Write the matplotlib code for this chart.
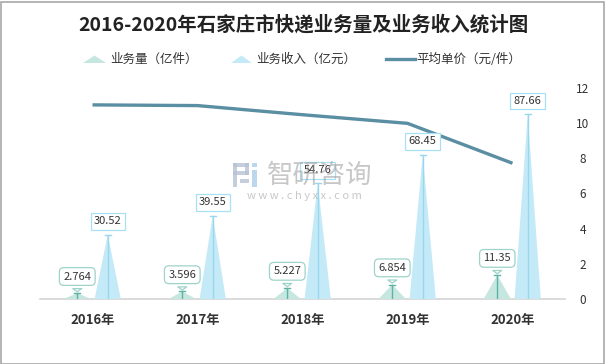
import matplotlib
matplotlib.use('Agg')
import matplotlib.pyplot as plt
from matplotlib.patches import Polygon, Rectangle
from matplotlib.lines import Line2D

plt.rcParams['font.family'] = ['Noto Sans CJK SC', 'DejaVu Sans']

# ---------------- data ----------------
years = ['2016年', '2017年', '2018年', '2019年', '2020年']
volume = [2.764, 3.596, 5.227, 6.854, 11.35]          # 业务量（亿件）
revenue = [30.52, 39.55, 54.76, 68.45, 87.66]         # 业务收入（亿元）
price = [11.04, 11.00, 10.48, 9.99, 7.72]             # 平均单价（元/件）
volume_labels = ['2.764', '3.596', '5.227', '6.854', '11.35']
revenue_labels = ['30.52', '39.55', '54.76', '68.45', '87.66']
right_ticks = [0, 2, 4, 6, 8, 10, 12]

title = '2016-2020年石家庄市快递业务量及业务收入统计图'
legend_names = ['业务量（亿件）', '业务收入（亿元）', '平均单价（元/件）']

# ---------------- style ----------------
W, H = 606, 364
vol_fill = '#c6e6e0'
vol_line = '#5db3a7'
vol_edge = '#9ed3ca'
rev_fill = '#c4eaf8'
rev_line = '#9ad7ee'
rev_edge = '#a9e0f3'
price_color = '#5a8ea2'
txt = '#333333'

fig = plt.figure(figsize=(W / 100, H / 100), dpi=100)
fig.patch.set_facecolor('white')


def fx(px):
    return px / W


def fy(py):
    return 1 - py / H


# border around figure
fig.patches.append(Rectangle((0.5 / W, 0.5 / H), 1 - 2.5 / W, 1 - 2.5 / H,
                             transform=fig.transFigure, fill=False,
                             ec='#a8a8a8', lw=1.2))

ax = fig.add_axes([fx(40), fy(299), fx(565) - fx(40), fy(88) - fy(299)])
ax2 = ax.twinx()

ax.set_xlim(-0.5, 4.5)
ax.set_ylim(0, 12)
ax2.set_ylim(0, 100)

for a in (ax, ax2):
    for s in a.spines.values():
        s.set_visible(False)
ax.spines['bottom'].set_visible(True)
ax.spines['bottom'].set_color('#d4d4d4')
ax.spines['bottom'].set_linewidth(1.2)

ax.yaxis.tick_right()
ax.set_yticks(right_ticks)
ax.set_yticklabels([str(t) for t in right_ticks])
ax.tick_params(axis='y', length=0, pad=13, labelsize=8.5, labelcolor=txt)
for tl in ax.get_yticklabels():
    tl.set_horizontalalignment('center')
ax2.set_yticks([])

ax.set_xticks(range(len(years)))
ax.set_xticklabels(years, fontweight='bold', fontsize=9.5, color=txt)
ax.tick_params(axis='x', length=0, pad=10)

# price line
ax.plot(range(len(years)), price, color=price_color, lw=2.4,
        solid_capstyle='butt', solid_joinstyle='round', zorder=3)

# spikes
off = 0.145
hw_v = 0.13
hw_r = 0.125
cap = 0.03
for i, (v, r) in enumerate(zip(volume, revenue)):
    xv = i - off
    xr = i + off
    ax2.fill([xv - hw_v, xv, xv + hw_v], [0, v, 0], color=vol_fill, lw=0, zorder=2)
    ax2.plot([xv, xv], [0, v], color=vol_line, lw=1, zorder=3)
    ax2.plot([xv - cap, xv + cap], [v, v], color=vol_line, lw=1, zorder=3)
    ax2.fill([xr - hw_r, xr, xr + hw_r], [0, r, 0], color=rev_fill, lw=0, zorder=2)
    ax2.plot([xr, xr], [0, r], color=rev_line, lw=1, zorder=3)
    ax2.plot([xr - cap, xr + cap], [r, r], color=rev_line, lw=1, zorder=3)

    ax2.annotate(volume_labels[i], xy=(xv, v), xytext=(0, 12),
                 textcoords='offset points', ha='center', va='center',
                 fontsize=8, color=txt, zorder=6,
                 bbox=dict(boxstyle='round,pad=0.35,rounding_size=0.4', fc='white',
                           ec=vol_edge, lw=0.9),
                 arrowprops=dict(arrowstyle='wedge,tail_width=0.8,shrink_factor=0.5',
                                 fc='white', ec=vol_edge, lw=0.9, shrinkB=1))
    ax2.annotate(revenue_labels[i], xy=(xr, r), xytext=(0, 9.5),
                 textcoords='offset points', ha='center', va='center',
                 fontsize=8, color=txt, zorder=6,
                 bbox=dict(boxstyle='square,pad=0.3', fc='white',
                           ec=rev_edge, lw=0.9))

# title
fig.text(fx(303), fy(25), title, ha='center', va='center', fontsize=14,
         fontweight='bold', color='#222222')

# legend (manual)
ly = 59
tri1 = Polygon([(fx(83), fy(63)), (fx(94.5), fy(55.5)), (fx(106), fy(63))],
               closed=True, transform=fig.transFigure, fc=vol_fill, ec='none')
tri2 = Polygon([(fx(231), fy(63)), (fx(241.5), fy(55.5)), (fx(252), fy(63))],
               closed=True, transform=fig.transFigure, fc=rev_fill, ec='none')
fig.patches.extend([tri1, tri2])
fig.lines.append(Line2D([fx(386), fx(415)], [fy(ly), fy(ly)], transform=fig.transFigure,
                        color=price_color, lw=2.4))
fig.text(fx(110), fy(ly), legend_names[0], ha='left', va='center', fontsize=9, color=txt)
fig.text(fx(256), fy(ly), legend_names[1], ha='left', va='center', fontsize=9, color=txt)
fig.text(fx(416), fy(ly), legend_names[2], ha='left', va='center', fontsize=9, color=txt)

# watermark
for (x0, y0, w, h, c) in [(233, 163, 16, 4, '#b8c2d6'), (245, 163, 4, 12, '#b8c2d6'),
                          (233, 171, 16, 4, '#b8c2d6'), (233, 163, 4, 24, '#b8c2d6'),
                          (240, 179, 9, 4, '#b8c2d6'),
                          (252, 163, 5, 4, '#a9cde9'), (252, 170, 5, 17, '#a9cde9')]:
    fig.patches.append(Rectangle((fx(x0), fy(y0 + h)), w / W, h / H,
                                 transform=fig.transFigure, fc=c, ec='none', alpha=0.8))
fig.text(fx(320), fy(175), '智研咨询', ha='center', va='center', fontsize=19,
         color='#9a9a9a', alpha=0.55)
fig.text(fx(304), fy(196), 'w w w . c h y x x . c o m', ha='center', va='center',
         fontsize=8, color='#9a9a9a', alpha=0.55)

fig.savefig('out.png', dpi=100, facecolor='white')
